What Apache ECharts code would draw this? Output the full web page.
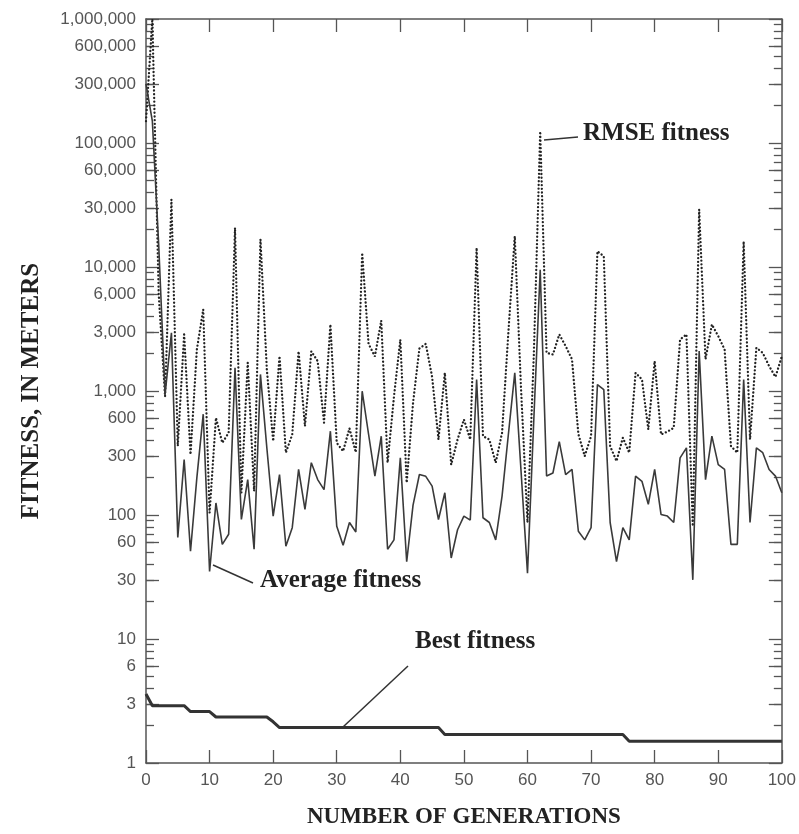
<!DOCTYPE html>
<html>
<head>
<meta charset="utf-8">
<script src="https://cdn.jsdelivr.net/npm/echarts@6/dist/echarts.min.js"></script>
<style>
  html, body { margin: 0; padding: 0; background: #fff; }
  #chart { width: 799px; height: 834px; }
</style>
</head>
<body>
<div id="chart"></div>
<script>
// fitness per generation (0..100)
const generations = [
  0, 1, 2, 3, 4, 5, 6, 7, 8, 9, 10, 11, 12, 13, 14, 15, 16, 17, 18, 19,
  20, 21, 22, 23, 24, 25, 26, 27, 28, 29, 30, 31, 32, 33, 34, 35, 36, 37, 38, 39,
  40, 41, 42, 43, 44, 45, 46, 47, 48, 49, 50, 51, 52, 53, 54, 55, 56, 57, 58, 59,
  60, 61, 62, 63, 64, 65, 66, 67, 68, 69, 70, 71, 72, 73, 74, 75, 76, 77, 78, 79,
  80, 81, 82, 83, 84, 85, 86, 87, 88, 89, 90, 91, 92, 93, 94, 95, 96, 97, 98, 99, 100
];

const rmseFitness = [
  150000, 1000000, 6000, 900, 35000, 360, 2860, 307, 2160, 4540,
  104, 608, 382, 460, 20700, 151, 1690, 156, 16700, 1500,
  394, 1910, 318, 446, 2090, 520, 2090, 1740, 555, 3440,
  382, 327, 500, 320, 13000, 2400, 1900, 3700, 264, 900,
  2600, 182, 800, 2200, 2400, 1300, 406, 1400, 255, 406,
  589, 406, 14300, 432, 406, 264, 460, 3000, 17700, 1000,
  87, 2000, 124000, 2030, 1970, 2860, 2300, 1800, 450, 298,
  432, 13400, 12200, 359, 272, 420, 318, 1400, 1240, 490,
  1740, 446, 470, 505, 2600, 2860, 81, 29100, 1800, 3440,
  2770, 2160, 359, 318, 16100, 406, 2230, 2030, 1590, 1300, 1900
];

const averageFitness = [
  300000, 150000, 15000, 940, 2950, 66, 280, 51, 200, 650,
  35, 125, 58, 70, 1540, 92, 193, 53, 1360, 350,
  98, 212, 56, 79, 233, 111, 264, 193, 160, 474,
  81, 57, 87, 73, 996, 450, 206, 432, 53, 63,
  289, 42, 120, 212, 205, 171, 92, 151, 45, 76,
  98, 91, 1240, 95, 87, 63, 142, 450, 1400, 220,
  34, 600, 9500, 206, 218, 390, 212, 233, 74, 63,
  79, 1128, 1028, 87, 42, 79, 63, 206, 187, 122,
  233, 101, 98, 87, 289, 348, 30, 2100, 193, 432,
  255, 233, 58, 58, 1240, 87, 348, 318, 233, 206, 151
];

const bestFitness = [
  3.6, 2.9, 2.9, 2.9, 2.9, 2.9, 2.9, 2.6, 2.6, 2.6,
  2.6, 2.35, 2.35, 2.35, 2.35, 2.35, 2.35, 2.35, 2.35, 2.35,
  2.15, 1.93, 1.93, 1.93, 1.93, 1.93, 1.93, 1.93, 1.93, 1.93,
  1.93, 1.93, 1.93, 1.93, 1.93, 1.93, 1.93, 1.93, 1.93, 1.93,
  1.93, 1.93, 1.93, 1.93, 1.93, 1.93, 1.93, 1.7, 1.7, 1.7,
  1.7, 1.7, 1.7, 1.7, 1.7, 1.7, 1.7, 1.7, 1.7, 1.7,
  1.7, 1.7, 1.7, 1.7, 1.7, 1.7, 1.7, 1.7, 1.7, 1.7,
  1.7, 1.7, 1.7, 1.7, 1.7, 1.7, 1.5, 1.5, 1.5, 1.5,
  1.5, 1.5, 1.5, 1.5, 1.5, 1.5, 1.5, 1.5, 1.5, 1.5,
  1.5, 1.5, 1.5, 1.5, 1.5, 1.5, 1.5, 1.5, 1.5, 1.5, 1.5
];

// tick labels on the fitness axis
const yLabelValues = [
  1, 3, 6, 10, 30, 60, 100, 300, 600, 1000, 3000, 6000,
  10000, 30000, 60000, 100000, 300000, 600000, 1000000
];
const yMinorMultipliers = [2, 3, 4, 5, 6, 7, 8, 9];
const xTickLabels = [0, 10, 20, 30, 40, 50, 60, 70, 80, 90, 100];

const axisColor = '#555';
const labelFont = '"Liberation Sans", Arial, sans-serif';
const titleFont = '"Liberation Serif", "Times New Roman", serif';

// ticks are drawn on plain 0..6 axes that share the log axis' pixel span
const majorTickPos = yLabelValues.map(v => Math.log10(v));
const minorTickPos = [];
for (let d = 0; d < 6; d++) {
  yMinorMultipliers.forEach(m => minorTickPos.push(d + Math.log10(m)));
}

const pairs = arr => generations.map((g, i) => [g, arr[i]]);

const tickAxis = (position, withLabels, positions, len) => ({
  type: 'value',
  position: position,
  min: 0,
  max: 6,
  axisLine: { show: false },
  axisTick: {
    show: true, inside: true, length: len, customValues: positions,
    lineStyle: { color: axisColor, width: 1.3 }
  },
  axisLabel: withLabels ? {
    show: true,
    customValues: positions,
    formatter: v => Math.round(Math.pow(10, v)).toLocaleString('en-US'),
    color: '#555',
    fontFamily: labelFont,
    fontSize: 17,
    margin: 10
  } : { show: false },
  splitLine: { show: false }
});

const option = {
  animation: false,
  backgroundColor: '#fff',
  grid: { left: 146, right: 14, top: 19, bottom: 71 },
  xAxis: [
    {
      type: 'value',
      position: 'bottom',
      min: 0,
      max: 100,
      interval: 10,
      axisLine: { show: true, onZero: false, lineStyle: { color: axisColor, width: 1.5 } },
      axisTick: { show: true, inside: true, length: 13, lineStyle: { color: axisColor, width: 1.3 } },
      axisLabel: {
        color: '#555', fontFamily: labelFont, fontSize: 17, margin: 9,
        formatter: v => (xTickLabels.includes(v) ? String(v) : '')
      },
      splitLine: { show: false },
      name: 'NUMBER OF GENERATIONS',
      nameLocation: 'middle',
      nameGap: 43,
      nameTextStyle: { fontFamily: titleFont, fontWeight: 'bold', fontSize: 23, color: '#222' }
    },
    {
      type: 'value',
      position: 'top',
      min: 0,
      max: 100,
      interval: 10,
      axisLine: { show: true, onZero: false, lineStyle: { color: axisColor, width: 1.5 } },
      axisTick: { show: true, inside: true, length: 13, lineStyle: { color: axisColor, width: 1.3 } },
      axisLabel: { show: false },
      splitLine: { show: false }
    }
  ],
  yAxis: [
    {
      type: 'log',
      logBase: 10,
      position: 'left',
      min: 1,
      max: 1000000,
      axisLine: { show: true, onZero: false, lineStyle: { color: axisColor, width: 1.5 } },
      axisTick: { show: false },
      axisLabel: { show: false },
      splitLine: { show: false },
      name: 'FITNESS, IN METERS',
      nameLocation: 'middle',
      nameGap: 102,
      nameRotate: 90,
      nameTextStyle: { fontFamily: titleFont, fontWeight: 'bold', fontSize: 25, color: '#222' }
    },
    tickAxis('left', true, majorTickPos, 13),
    tickAxis('left', false, minorTickPos, 8),
    Object.assign(tickAxis('right', false, majorTickPos, 13), {
      axisLine: { show: true, onZero: false, lineStyle: { color: axisColor, width: 1.5 } }
    }),
    tickAxis('right', false, minorTickPos, 8)
  ],
  series: [
    {
      name: 'RMSE fitness',
      type: 'line',
      data: pairs(rmseFitness),
      showSymbol: false,
      symbol: 'none',
      lineStyle: { type: [0.1, 3.6], width: 2.3, color: '#222', cap: 'round' },
      z: 3
    },
    {
      name: 'Average fitness',
      type: 'line',
      data: pairs(averageFitness),
      showSymbol: false,
      symbol: 'none',
      lineStyle: { width: 1.6, color: '#3a3a3a' },
      z: 4
    },
    {
      name: 'Best fitness',
      type: 'line',
      data: pairs(bestFitness),
      showSymbol: false,
      symbol: 'none',
      lineStyle: { width: 3, color: '#333' },
      z: 5
    }
  ],
  graphic: [
    // leader lines and callout labels
    { type: 'line', shape: { x1: 544, y1: 140, x2: 578, y2: 137 }, style: { stroke: '#333', lineWidth: 1.5 } },
    { type: 'text', left: 583, top: 121,
      style: { text: 'RMSE fitness', font: 'bold 25px ' + titleFont, fill: '#222' } },
    { type: 'line', shape: { x1: 213, y1: 565, x2: 253, y2: 583 }, style: { stroke: '#333', lineWidth: 1.5 } },
    { type: 'text', left: 260, top: 568,
      style: { text: 'Average fitness', font: 'bold 25px ' + titleFont, fill: '#222' } },
    { type: 'line', shape: { x1: 343, y1: 727, x2: 408, y2: 666 }, style: { stroke: '#333', lineWidth: 1.5 } },
    { type: 'text', left: 415, top: 629,
      style: { text: 'Best fitness', font: 'bold 25px ' + titleFont, fill: '#222' } }
  ]
};

const chart = echarts.init(document.getElementById('chart'));
chart.setOption(option);
</script>
</body>
</html>
